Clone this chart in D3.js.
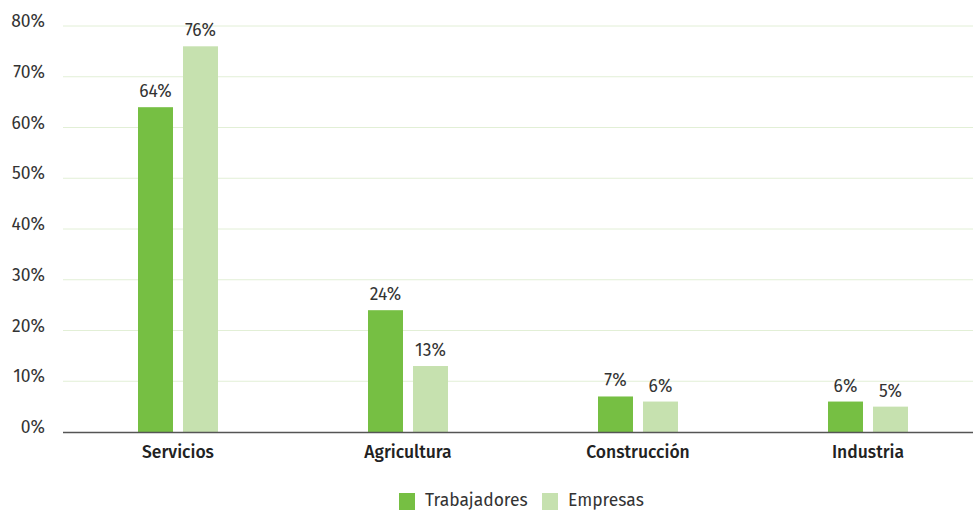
<!DOCTYPE html>
<html><head><meta charset="utf-8">
<script src="https://cdn.jsdelivr.net/npm/d3@7"></script>
<style>body{margin:0;background:#fff;} svg{display:block;font-family:"Fira Sans","Noto Sans","Open Sans",sans-serif;}</style>
</head><body>
<svg id="c" width="973" height="511"></svg>
<script>
const categories = ["Servicios","Agricultura","Construcción","Industria"];
const seriesNames = ["Trabajadores","Empresas"];
const trabajadores = [64,24,7,6];
const empresas = [76,13,6,5];
const yTicks = [0,10,20,30,40,50,60,70,80];
const colors = ["#76bf43","#c6e1af"];

const svg = d3.select("#c");
const x = d3.scaleBand().domain(categories).range([63,983]);
const y = d3.scaleLinear().domain([0,80]).range([432,26]);
const sub = d3.scaleBand().domain(seriesNames).range([-40,40]).paddingInner(10/45);

// grid
svg.append("g").selectAll("line").data(yTicks.filter(d=>d>0)).join("line")
  .attr("x1",63).attr("x2",973).attr("y1",d=>y(d)).attr("y2",d=>y(d))
  .attr("stroke","#e2efd6").attr("stroke-width",1);

// y labels
svg.append("g").selectAll("text").data(yTicks).join("text")
  .attr("x",45).attr("y",d=>y(d)+1).attr("text-anchor","end")
  .attr("font-size",17.5).attr("fill","#333").text(d=>d+"%");

const data = [trabajadores, empresas];
data.forEach((vals,si)=>{
  const g = svg.append("g");
  g.selectAll("rect").data(vals).join("rect")
    .attr("x",(d,i)=>x(categories[i])+x.bandwidth()/2+sub(seriesNames[si]))
    .attr("width",sub.bandwidth())
    .attr("y",d=>y(d)).attr("height",d=>y(0)-y(d))
    .attr("fill",colors[si]);
  g.selectAll("text").data(vals).join("text")
    .attr("x",(d,i)=>x(categories[i])+x.bandwidth()/2+sub(seriesNames[si])+sub.bandwidth()/2)
    .attr("y",d=>y(d)-10).attr("text-anchor","middle")
    .attr("font-size",17.5).attr("fill","#333").text(d=>d+"%");
});

// axis line
svg.append("line").attr("x1",63).attr("x2",973).attr("y1",y(0)+0.5).attr("y2",y(0)+0.5)
  .attr("stroke","#555").attr("stroke-width",1.5);

// category labels
svg.append("g").selectAll("text").data(categories).join("text")
  .attr("x",d=>x(d)+x.bandwidth()/2).attr("y",458).attr("text-anchor","middle")
  .attr("font-size",17.5).attr("font-weight",500).attr("fill","#222").text(d=>d);

// legend
const leg = svg.append("g");
const legX = [399,542];
seriesNames.forEach((s,i)=>{
  leg.append("rect").attr("x",legX[i]).attr("y",493).attr("width",16).attr("height",17).attr("fill",colors[i]);
  leg.append("text").attr("x",legX[i]+26).attr("y",506).attr("font-size",17.5).attr("fill","#333").text(s);
});
</script>
</body></html>
